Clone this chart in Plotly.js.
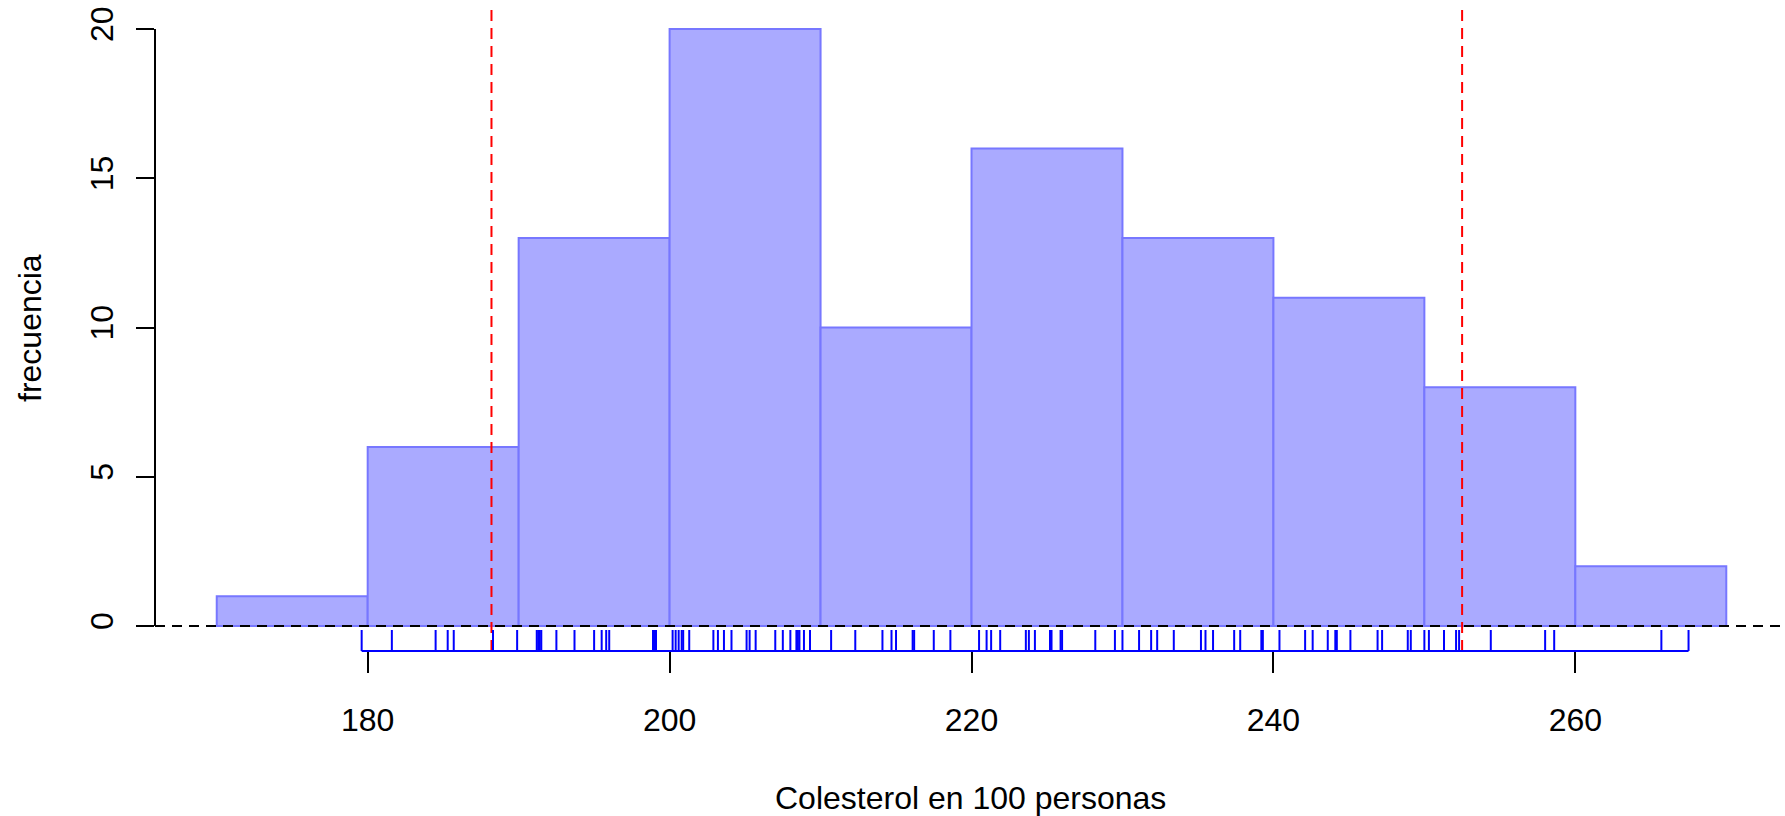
<!DOCTYPE html>
<html>
<head>
<meta charset="utf-8">
<script src="https://cdn.plot.ly/plotly-3.0.1.min.js"></script>
<style>html,body{margin:0;padding:0;background:#fff;}#chart{width:1785px;height:816px;}</style>
</head>
<body>
<div id="chart"></div>
<script>
// ---- data ----
const binStarts = [170, 180, 190, 200, 210, 220, 230, 240, 250, 260];
const binWidth = 10;
const counts = [1, 6, 13, 20, 10, 16, 13, 11, 8, 2];
const rugValues = [179.6, 181.6, 184.5, 185.3, 185.7, 188.3, 189.9, 191.2, 191.3, 191.4, 191.5, 192.5, 193.7, 195.0, 195.5, 195.8, 196.0, 198.9, 199.0, 199.1,
  200.2, 200.4, 200.6, 200.8, 200.9, 201.3, 202.9, 203.2, 203.6, 204.1, 205.1, 205.3, 205.7, 207.0, 207.5, 208.0, 208.4, 208.5, 208.6, 208.9, 209.3,
  210.7, 212.3, 214.1, 214.7, 215.0, 216.1, 216.2, 217.5, 218.6,
  220.5, 221.0, 221.3, 221.9, 223.6, 223.8, 224.2, 225.2, 225.3, 225.9, 226.0, 228.2, 229.5, 230.0,
  231.1, 231.9, 232.3, 233.4, 235.2, 235.5, 236.0, 237.4, 237.8, 239.2, 239.3,
  240.4, 242.1, 242.6, 243.6, 244.1, 244.2, 245.1, 246.9, 247.2, 248.9, 249.1,
  250.0, 250.3, 251.3, 252.1, 252.3, 254.4, 258.0, 258.6, 265.7, 267.5];
const refLines = [188.2, 252.5];
const xTicks = [180, 200, 220, 240, 260];
const yTicks = [0, 5, 10, 15, 20];
const xTitle = 'Colesterol en 100 personas';
const yTitle = 'frecuencia';

// ---- drawing ----
const FONT = '"Liberation Sans", Arial, Helvetica, sans-serif';
const centers = binStarts.map(s => s + binWidth / 2);

const shapes = [];
// y axis line from 0 to 20
shapes.push({type: 'line', xref: 'paper', yref: 'y', x0: 0, x1: 0, y0: yTicks[0], y1: yTicks[yTicks.length - 1],
  line: {color: '#000', width: 2}, layer: 'above'});
// horizontal dashed line at 0
shapes.push({type: 'line', xref: 'paper', yref: 'y', x0: 0, x1: 1, y0: 0, y1: 0,
  line: {color: '#000', width: 2, dash: '10px,7px'}, layer: 'above'});
// red reference lines
refLines.forEach(v => shapes.push({type: 'line', xref: 'x', yref: 'paper', x0: v, x1: v, y0: 0, y1: 1,
  line: {color: '#FF0000', width: 2, dash: '11px,7px'}, layer: 'above'}));
// rug
const rugH = 0.0325;
rugValues.forEach(v => shapes.push({type: 'line', xref: 'x', yref: 'paper', x0: v, x1: v, y0: 0, y1: rugH,
  line: {color: '#0000FF', width: 2}, layer: 'above'}));
shapes.push({type: 'line', xref: 'x', yref: 'paper', x0: Math.min(...rugValues), x1: Math.max(...rugValues), y0: 0, y1: 0,
  line: {color: '#0000FF', width: 2}, layer: 'above'});

const trace = {
  type: 'bar', x: centers, y: counts, width: binWidth,
  marker: {color: '#AAAAFF', line: {color: '#7777FF', width: 2}},
  hoverinfo: 'x+y'
};

const layout = {
  width: 1785, height: 816,
  margin: {l: 155, r: 0, t: 5, b: 165, pad: 0},
  paper_bgcolor: '#fff', plot_bgcolor: '#fff',
  showlegend: false,
  font: {family: FONT, size: 32, color: '#000'},
  xaxis: {
    range: [165.91, 273.89], tickvals: xTicks, ticktext: xTicks.map(String),
    ticks: 'outside', ticklen: 21, tickwidth: 2, tickcolor: '#000',
    showline: false, zeroline: false, showgrid: false,
    tickfont: {family: FONT, size: 32, color: '#000'}, ticklabelstandoff: 20
  },
  yaxis: {
    range: [-0.8375, 20.804], tickvals: yTicks, ticktext: yTicks.map(String),
    ticks: 'outside', ticklen: 18, tickwidth: 2, tickcolor: '#000', tickangle: -90,
    showline: false, zeroline: false, showgrid: false,
    tickfont: {family: FONT, size: 32, color: '#000'}, ticklabelstandoff: 10
  },
  shapes: shapes,
  annotations: [
    {text: xTitle, xref: 'paper', yref: 'paper', x: 0.5, y: 0, xanchor: 'center', yanchor: 'top',
     yshift: -127, showarrow: false, font: {family: FONT, size: 32, color: '#000'}},
    {text: yTitle, xref: 'paper', yref: 'paper', x: 0, y: 0.5, xanchor: 'center', yanchor: 'middle',
     xshift: -125, textangle: -90, showarrow: false, font: {family: FONT, size: 32, color: '#000'}}
  ]
};

Plotly.newPlot('chart', [trace], layout, {displayModeBar: false, staticPlot: true});
</script>
</body>
</html>
